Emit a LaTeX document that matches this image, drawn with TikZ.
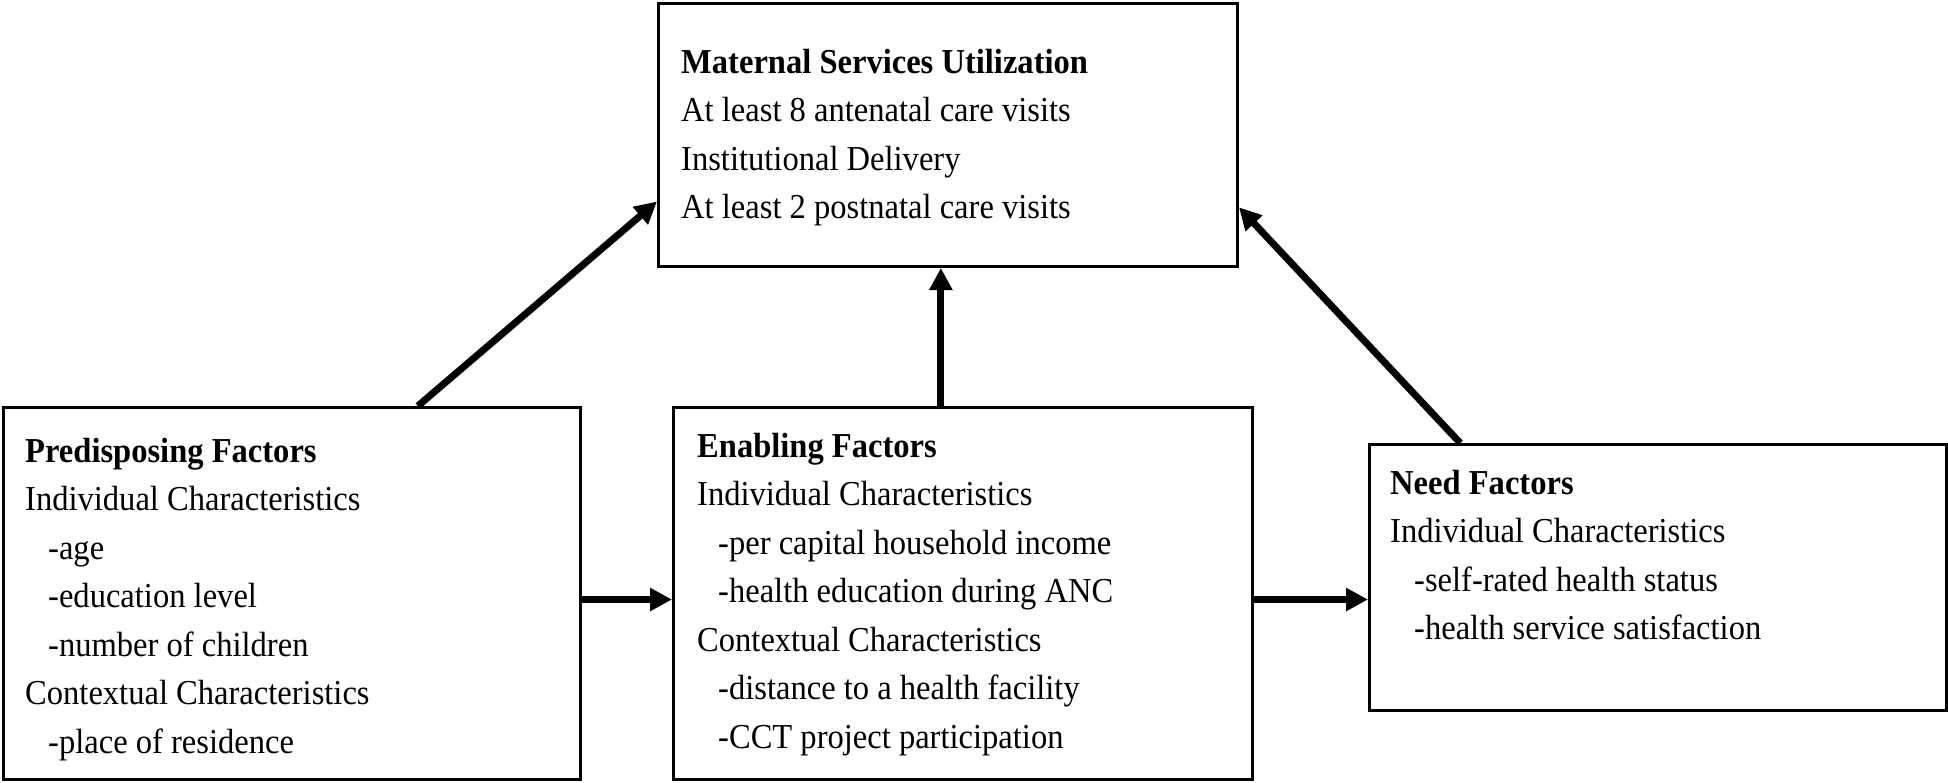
\documentclass[tikz,border=0pt]{standalone}
\usepackage{fontspec}
\setmainfont{Liberation Serif}[FakeStretch=0.93]
\usetikzlibrary{arrows.meta,calc}
\begin{document}
\begin{tikzpicture}[x=1pt,y=-1pt,
 box/.style={draw,line width=3pt,rectangle,inner sep=0pt,anchor=north west},
 txt/.style={anchor=north west,inner sep=0pt,align=left,font=\fontsize{35}{48.5}\selectfont},
 arr/.style={line width=7pt,-{Triangle[length=22pt,width=22pt]}}]
\useasboundingbox (0,0) rectangle (1948,782);
\node[box,minimum width=579pt,minimum height=263pt] (msu) at (657,2) {};
\node[box,minimum width=577pt,minimum height=372pt] (pre) at (2,406) {};
\node[box,minimum width=579pt,minimum height=372pt] (ena) at (672,406) {};
\node[box,minimum width=577pt,minimum height=266pt] (need) at (1368,443) {};

\node[txt] (msut) at (681,39) {\strut\textbf{Maternal Services Utilization}\\
At least 8 antenatal care visits\\
Institutional Delivery\\
At least 2 postnatal care visits};
\node[txt] (pret) at (25,428) {\strut\textbf{Predisposing Factors}\\
Individual Characteristics\\
\hspace*{23pt}-age\\
\hspace*{23pt}-education level\\
\hspace*{23pt}-number of children\\
Contextual Characteristics\\
\hspace*{23pt}-place of residence};
\node[txt] (enat) at (697,423) {\strut\textbf{Enabling Factors}\\
Individual Characteristics\\
\hspace*{21pt}-per capital household income\\
\hspace*{21pt}-health education during ANC\\
Contextual Characteristics\\
\hspace*{21pt}-distance to a health facility\\
\hspace*{21pt}-CCT project participation};
\node[txt] (needt) at (1390,460) {\strut\textbf{Need Factors}\\
Individual Characteristics\\
\hspace*{24pt}-self-rated health status\\
\hspace*{24pt}-health service satisfaction};

\coordinate (a1s) at ($(pre.north west)!0.717!(pre.north east)$);
\coordinate (a1e) at ($(msu.north west)!0.75!(msu.south west)$);
\draw[arr] (a1s) -- (a1e);
\coordinate (a2s) at ($(ena.north west)!0.462!(ena.north east)$);
\draw[arr] (a2s) -- (a2s |- msu.south);
\coordinate (a3s) at ($(need.north west)!0.159!(need.north east)$);
\coordinate (a3e) at ($(msu.north east)!0.772!(msu.south east)$);
\draw[arr] (a3s) -- (a3e);
\coordinate (h1) at ($(pre.north east)!0.516!(pre.south east)$);
\draw[arr] (h1) -- (h1 -| ena.west);
\coordinate (h2) at (h1 -| ena.east);
\draw[arr] (h2) -- (h2 -| need.west);
\end{tikzpicture}
\end{document}
